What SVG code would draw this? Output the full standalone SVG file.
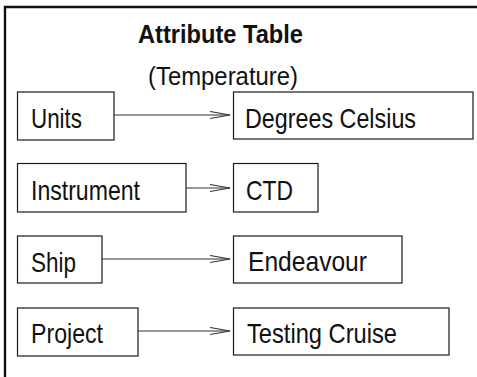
<svg xmlns="http://www.w3.org/2000/svg" width="477" height="377" viewBox="0 0 477 377">
  <defs>
    <style>
      .box { fill: #ffffff; stroke: #1a1a1a; stroke-width: 1.2; }
      .lbl { font-family: "Liberation Sans", Arial, sans-serif; font-size: 28px; fill: #111; }
      .title { font-family: "Liberation Sans", Arial, sans-serif; font-size: 25px; fill: #111; }
      .conn { stroke: #333; stroke-width: 1.2; fill: none; marker-end: url(#arr); }
      .frame { stroke: #111; stroke-width: 2.4; fill: none; }
    </style>
    <marker id="arr" markerUnits="userSpaceOnUse" markerWidth="22" markerHeight="10" refX="20" refY="4" orient="auto">
      <path d="M0,0.5 L20,4 L0,7.5" fill="none" stroke="#333" stroke-width="1.1"/>
    </marker>
  </defs>
  <rect width="477" height="377" fill="#ffffff"/>
  <path class="frame" d="M5,377 V7 H477"/>

  <g id="title">
    <text class="title" x="138" y="43" font-weight="bold" textLength="165" lengthAdjust="spacingAndGlyphs">Attribute Table</text>
    <text class="title" x="148" y="84.5" textLength="150" lengthAdjust="spacingAndGlyphs">(Temperature)</text>
  </g>

  <g id="connectors">
    <line class="conn" x1="114" y1="115" x2="230" y2="115"/>
    <line class="conn" x1="186" y1="188" x2="230" y2="188"/>
    <line class="conn" x1="102" y1="259" x2="230" y2="259"/>
    <line class="conn" x1="138" y1="331" x2="230" y2="331"/>
  </g>

  <g id="units">
    <rect class="box" x="17.5" y="92" width="96.5" height="48"/>
    <text class="lbl" x="31" y="128" textLength="51" lengthAdjust="spacingAndGlyphs">Units</text>
  </g>
  <g id="degrees-celsius">
    <rect class="box" x="233.5" y="92" width="239.5" height="47"/>
    <text class="lbl" x="245" y="127.5" textLength="171" lengthAdjust="spacingAndGlyphs">Degrees Celsius</text>
  </g>

  <g id="instrument">
    <rect class="box" x="17.5" y="163.5" width="168.5" height="48.5"/>
    <text class="lbl" x="31" y="200" textLength="109" lengthAdjust="spacingAndGlyphs">Instrument</text>
  </g>
  <g id="ctd">
    <rect class="box" x="233.5" y="163.5" width="84.5" height="48.5"/>
    <text class="lbl" x="246" y="199.5" textLength="47" lengthAdjust="spacingAndGlyphs">CTD</text>
  </g>

  <g id="ship">
    <rect class="box" x="17.5" y="236" width="84.5" height="47"/>
    <text class="lbl" x="31" y="271.5" textLength="45" lengthAdjust="spacingAndGlyphs">Ship</text>
  </g>
  <g id="endeavour">
    <rect class="box" x="233.5" y="236" width="168.5" height="47"/>
    <text class="lbl" x="248" y="270.5" font-size="30" textLength="119" lengthAdjust="spacingAndGlyphs">Endeavour</text>
  </g>

  <g id="project">
    <rect class="box" x="17.5" y="308" width="120.5" height="48"/>
    <text class="lbl" x="31" y="343" textLength="72" lengthAdjust="spacingAndGlyphs">Project</text>
  </g>
  <g id="testing-cruise">
    <rect class="box" x="233.5" y="308" width="215.5" height="47"/>
    <text class="lbl" x="247" y="343" textLength="150" lengthAdjust="spacingAndGlyphs">Testing Cruise</text>
  </g>
</svg>
